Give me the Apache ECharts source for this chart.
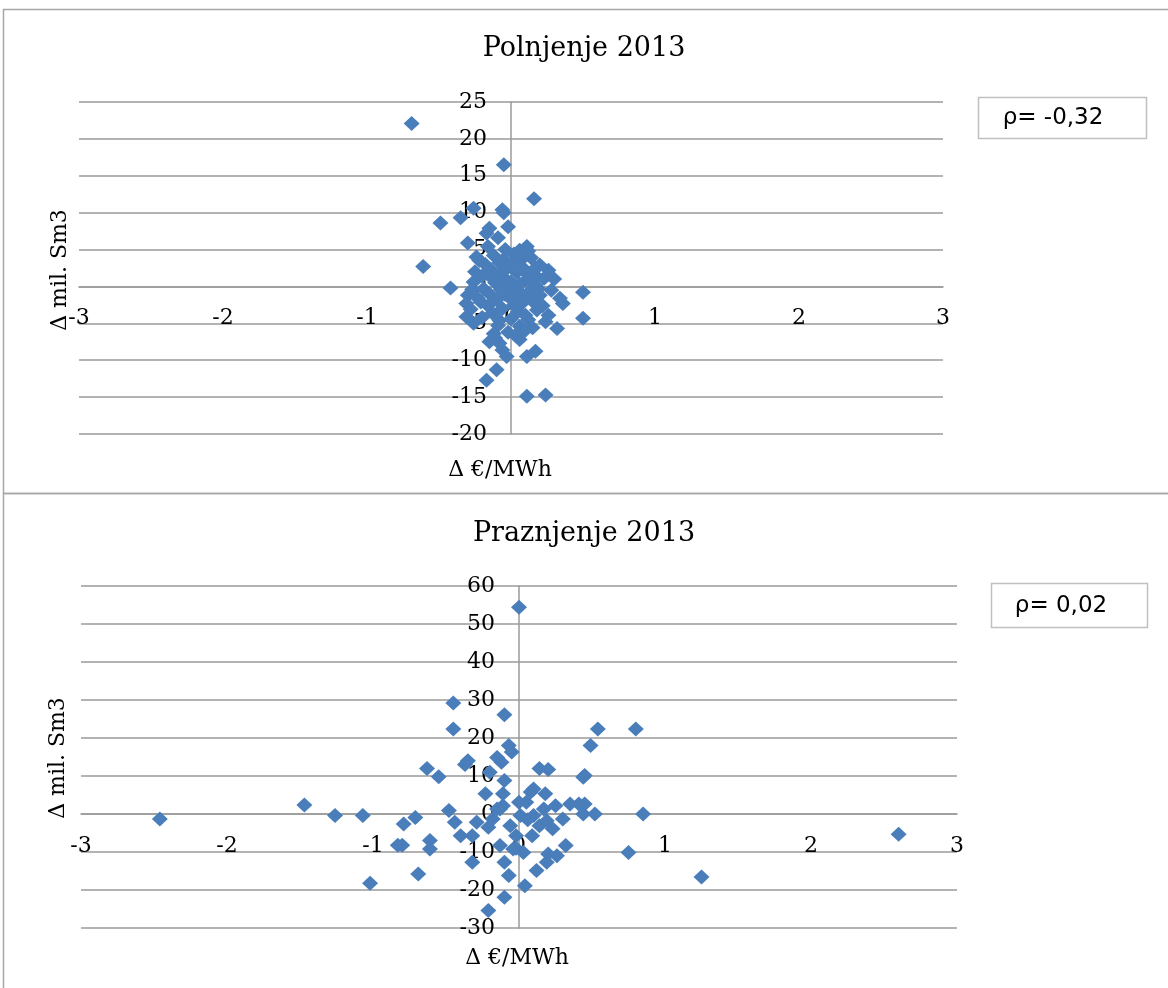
<!DOCTYPE html>
<html>
<head>
<meta charset="utf-8">
<script src="https://cdn.jsdelivr.net/npm/echarts@6/dist/echarts.min.js"></script>
<style>
  html, body { margin: 0; padding: 0; background: #fff; }
  #main { width: 1168px; height: 988px; }
</style>
</head>
<body>
<div id="main"></div>
<script>
// Polnjenje 2013 - [Δ €/MWh, Δ mil. Sm3]
var polnjenje = [
  [-0.69, 22.1], [-0.05, 16.5], [0.16, 11.9], [-0.49, 8.6], [-0.35, 9.3], [-0.26, 10.6],
  [-0.06, 10.4], [-0.05, 10.0], [-0.02, 8.1], [-0.15, 7.9], [-0.17, 7.2], [-0.09, 6.6],
  [-0.30, 5.9], [0.11, 5.4], [0.12, 4.8], [-0.61, 2.7], [-0.42, -0.2], [0.26, 2.2],
  [0.18, 1.3], [0.50, -0.8], [-0.24, 4.0], [-0.17, 1.8], [0.36, -2.3], [0.50, -4.3],
  [0.32, -5.7], [0.26, -3.9], [-0.15, -7.5], [0.17, -8.8], [0.11, -9.5], [-0.03, -9.5],
  [-0.10, -11.3], [-0.17, -12.7], [0.11, -14.9], [0.24, -14.7], [-0.31, -2.3], [-0.31, -4.1],
  [-0.26, -5.0], [-0.08, -7.7], [-0.06, -8.6], [0.06, -7.2], [0.06, -5.4],
  [-0.22, 3.5], [-0.12, 4.2], [-0.04, 5.0], [0.02, 4.4], [0.07, 3.6], [0.14, 3.9],
  [0.20, 2.9], [0.23, 1.1], [0.17, 0.2], [0.10, 0.8], [0.04, 1.9], [-0.02, 2.6],
  [-0.08, 3.2], [-0.14, 2.3], [-0.20, 1.4], [-0.26, 0.6], [-0.19, -0.3], [-0.11, 0.5],
  [-0.05, 1.2], [0.01, -0.2], [0.06, 0.3], [0.13, -0.7], [0.20, -1.2], [0.28, -0.5],
  [0.22, -2.6], [0.15, -2.0], [0.08, -1.4], [0.02, -2.5], [-0.04, -1.1], [-0.10, -1.8],
  [-0.16, -2.6], [-0.23, -1.6], [-0.28, -3.1], [-0.20, -4.2], [-0.13, -3.6], [-0.06, -3.0],
  [0.00, -4.4], [0.05, -3.4], [0.12, -4.5], [0.18, -3.2], [0.24, -4.8], [-0.09, -5.3],
  [-0.02, -6.2], [0.03, -6.6], [-0.12, -6.4], [0.09, -6.1], [-0.25, 2.0], [-0.10, 1.5],
  [0.09, 2.4], [0.00, 0.6], [-0.07, -0.4], [0.04, -0.9], [0.10, 4.4], [-0.16, 5.4],
  [-0.30, -1.2], [0.30, 1.0], [0.34, -1.6], [-0.05, 3.7], [0.15, -5.6],
  [-0.12, 0.9], [-0.03, 0.2], [0.05, -0.5], [0.12, 1.6], [-0.07, 2.0], [0.02, 3.1],
  [-0.18, 3.0], [0.08, -2.2], [-0.15, -1.0], [0.17, 2.5], [-0.21, -2.1], [0.00, -1.7],
  [-0.08, -4.6], [0.10, -3.9], [0.19, -0.3], [-0.27, -0.4], [0.06, 4.9], [-0.11, -7.0]
]

// Praznjenje 2013
var praznjenje = [
  [0.00, 54.4], [-0.45, 29.2], [-0.45, 22.4], [-0.10, 26.1], [0.54, 22.4], [0.80, 22.4],
  [0.49, 18.0], [-0.07, 18.0], [-0.05, 16.3], [-0.35, 14.0], [-0.37, 13.0], [-0.15, 14.9],
  [-0.12, 13.6], [-0.63, 12.0], [-0.55, 9.8], [0.14, 12.0], [0.20, 11.7], [0.45, 10.1],
  [-0.20, 11.0], [-2.46, -1.3], [-1.47, 2.4], [-1.26, -0.4], [-1.07, -0.4], [-0.71, -0.9],
  [-0.79, -2.6], [-0.83, -8.2], [-0.80, -8.2], [-0.61, -7.0], [-0.61, -9.2], [-1.02, -18.2],
  [-0.69, -15.8], [-0.48, 0.9], [-0.44, -2.2], [-0.40, -5.7], [-0.32, -5.7], [-0.29, -2.2],
  [-0.32, -12.7], [-0.23, 5.3], [-0.21, -3.5], [-0.18, -1.3], [-0.13, 1.3], [-0.10, 8.8],
  [-0.11, 5.3], [-0.11, 2.2], [-0.13, -8.3], [-0.10, -12.7], [-0.07, -16.2], [-0.10, -21.9],
  [-0.21, -25.4], [0.04, -18.9], [-0.04, -9.2], [0.03, -10.1], [-0.06, -3.1], [-0.02, -5.7],
  [0.05, 3.1], [0.01, -0.4], [0.10, -0.4], [0.10, 6.6], [0.18, 5.3], [0.25, 2.2],
  [0.17, 1.3], [0.19, -1.8], [0.14, -3.1], [0.30, -1.3], [0.23, -3.9], [0.09, -5.7],
  [0.32, -8.3], [0.26, -11.0], [0.19, -12.7], [0.12, -14.9], [0.35, 2.6], [0.41, 2.6],
  [0.45, 2.6], [0.44, 0.0], [0.52, 0.0], [0.44, 9.7], [0.85, 0.0], [0.75, -10.1],
  [1.25, -16.6], [2.60, -5.3], [0.08, 5.8], [0.00, 3.1], [-0.15, 1.3], [0.20, -10.5],
  [-0.02, -9.0], [0.06, -1.5]
]

var titles = ["Polnjenje 2013", "Praznjenje 2013"]
var rhoLabels = ["ρ= -0,32", "ρ= 0,02"]
var xName = "Δ €/MWh"
var yName = "Δ mil. Sm3"
var xRange = [-3, 3, 1]
var yRanges = [[-20, 25, 5], [-30, 60, 10]]

var serif = "DejaVu Serif"
var gridColor = "#9a9a9a"
var markColor = "#4a7ebb"
var W = 1168
var grids = [
    { left: 79, right: 225, top: 102, height: 332 },
    { left: 81, right: 211, top: 586, height: 342 }
]

// the axes cross at zero, so move each axis (and its labels) there
function xAxisFor(idx) {
    var r = yRanges[idx], g = grids[idx]
    var shift = g.height * (0 - r[0]) / (r[1] - r[0])
    return {
        type: "value", gridIndex: idx, min: xRange[0], max: xRange[1], interval: xRange[2],
        offset: -shift,
        axisLine: { onZero: false, lineStyle: { color: gridColor, width: 1.5 } },
        axisTick: { show: false },
        splitLine: { show: false },
        axisLabel: { color: "#000", fontFamily: serif, fontSize: 22, margin: 21 }
    }
}

function yAxisFor(idx) {
    var r = yRanges[idx], g = grids[idx]
    var width = W - g.left - g.right
    var shift = width * (0 - xRange[0]) / (xRange[1] - xRange[0])
    return {
        type: "value", gridIndex: idx, min: r[0], max: r[1], interval: r[2],
        offset: -shift,
        axisLine: { show: true, onZero: false, lineStyle: { color: gridColor, width: 1.5 } },
        axisTick: { show: false },
        splitLine: { lineStyle: { color: gridColor, width: 1.5 } },
        axisLabel: { color: "#000", fontFamily: serif, fontSize: 22, margin: 24 }
    }
}

function scatterFor(idx, data) {
    return {
        type: "scatter", xAxisIndex: idx, yAxisIndex: idx,
        symbol: "diamond", symbolSize: [16, 15],
        itemStyle: { color: markColor, opacity: 1 },
        data: data
    }
}

function textEl(str, x, y, size, family, rot) {
    return {
        type: "text", x: x, y: y, rotation: rot || 0,
        style: {
            text: str, x: 0, y: 0, fill: "#000",
            font: size + "px '" + family + "'",
            align: "center", verticalAlign: "middle",
            textAlign: "center", textVerticalAlign: "middle"
        }
    }
}

var chart = echarts.init(document.getElementById("main"))

chart.setOption({
    backgroundColor: "#fff",
    animation: false,
    title: [
        { text: titles[0], left: "center", top: 30,
          textStyle: { fontFamily: serif, fontSize: 27, fontWeight: "normal", color: "#000" } },
        { text: titles[1], left: "center", top: 515,
          textStyle: { fontFamily: serif, fontSize: 27, fontWeight: "normal", color: "#000" } }
    ],
    grid: grids,
    xAxis: [xAxisFor(0), xAxisFor(1)],
    yAxis: [yAxisFor(0), yAxisFor(1)],
    series: [scatterFor(0, polnjenje), scatterFor(1, praznjenje)],
    graphic: [
        { type: "rect", shape: { x: 3.5, y: 9.5, width: 1170, height: 484 },
          style: { fill: "none", stroke: "#a6a6a6", lineWidth: 1.5 }, silent: true },
        { type: "rect", shape: { x: 3.5, y: 493.5, width: 1170, height: 500 },
          style: { fill: "none", stroke: "#a6a6a6", lineWidth: 1.5 }, silent: true },
        { type: "rect", shape: { x: 978.5, y: 97.5, width: 168, height: 41 },
          style: { fill: "#fff", stroke: "#c0c0c0", lineWidth: 1.5 } },
        { type: "rect", shape: { x: 991.5, y: 583.5, width: 156, height: 44 },
          style: { fill: "#fff", stroke: "#c0c0c0", lineWidth: 1.5 } },
        textEl(rhoLabels[0], 1053, 118, 23, "DejaVu Sans"),
        textEl(rhoLabels[1], 1061, 606, 23, "DejaVu Sans"),
        textEl(xName, 500, 470, 22, serif),
        textEl(xName, 517, 958, 22, serif),
        textEl(yName, 60, 270, 22, serif, Math.PI / 2),
        textEl(yName, 58, 758, 22, serif, Math.PI / 2)
    ]
})
</script>
</body>
</html>
